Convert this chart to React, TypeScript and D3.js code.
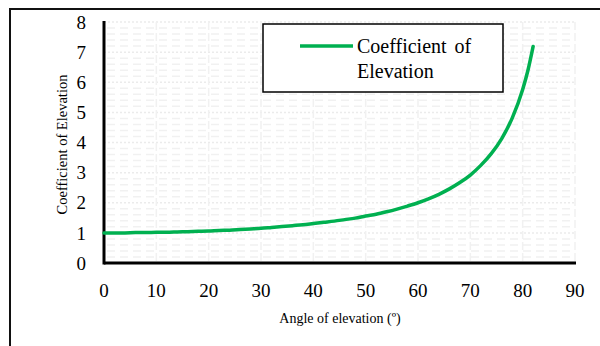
import React from "react";
import * as d3 from "d3";

// Angle of elevation (degrees) and the coefficient read at each angle
const angles = [0, 2, 4, 6, 8, 10, 12, 14, 16, 18, 20, 22, 24, 26, 28, 30, 32, 34, 36, 38, 40, 42, 44, 46, 48, 50, 52, 54, 56, 58, 60, 62, 64, 66, 68, 70, 72, 74, 76, 78, 80, 81, 82];
const coefficients = [1.0, 1.0, 1.0, 1.01, 1.01, 1.02, 1.02, 1.03, 1.04, 1.05, 1.06, 1.08, 1.09, 1.11, 1.13, 1.15, 1.18, 1.21, 1.24, 1.27, 1.31, 1.35, 1.39, 1.44, 1.49, 1.56, 1.62, 1.7, 1.79, 1.89, 2.0, 2.13, 2.28, 2.46, 2.67, 2.92, 3.24, 3.63, 4.13, 4.81, 5.76, 6.39, 7.19];

const xTicks = [0, 10, 20, 30, 40, 50, 60, 70, 80, 90];
const yTicks = [0, 1, 2, 3, 4, 5, 6, 7, 8];
const yMinorTicks = d3.range(0, 8.001, 0.2).filter((v) => Math.abs(v - Math.round(v)) > 0.01);

const seriesName = ["Coefficient of", "Elevation"];
const xTitle = "Angle of elevation (º)";
const yTitle = "Coefficient of Elevation";

const W = 600;
const H = 346;
const plot = { left: 104, right: 575, top: 22, bottom: 263 };
const GREEN = "#00B050";
const serif = { fontFamily: "'Liberation Serif', 'Times New Roman', Times, serif" };

export default function App() {
  const x = d3.scaleLinear().domain([0, 90]).range([plot.left, plot.right]);
  const y = d3.scaleLinear().domain([0, 8]).range([plot.bottom, plot.top]);

  const points: [number, number][] = angles.map((a, i) => [a, coefficients[i]]);
  const line = d3
    .line<[number, number]>()
    .x((d) => x(d[0]))
    .y((d) => y(d[1]))
    .curve(d3.curveMonotoneX);

  return (
    <svg width={W} height={H} style={{ position: "absolute", left: 0, top: 0, background: "#fff" }}>
      {/* outer frame */}
      <rect x={10} y={9} width={W + 20} height={H + 20} fill="none" stroke="#111" strokeWidth={2} />

      {/* minor horizontal gridlines */}
      {yMinorTicks.map((v) => (
        <line
          key={"mn" + v}
          x1={plot.left + 3}
          x2={plot.right}
          y1={y(v)}
          y2={y(v)}
          stroke="#f1f1f1"
          strokeWidth={1.5}
          strokeDasharray="8,5"
        />
      ))}
      {/* major horizontal gridlines */}
      {yTicks.slice(1).map((v) => (
        <line
          key={"mj" + v}
          x1={plot.left}
          x2={plot.right}
          y1={y(v)}
          y2={y(v)}
          stroke="#ebebeb"
          strokeWidth={1.5}
          strokeDasharray="2,2"
        />
      ))}
      {/* vertical gridlines */}
      {xTicks.slice(1).map((v) => (
        <line
          key={"vx" + v}
          x1={x(v)}
          x2={x(v)}
          y1={plot.top}
          y2={plot.bottom}
          stroke="#f1f1f1"
          strokeWidth={1.5}
          strokeDasharray="8,3"
        />
      ))}

      {/* axes */}
      <line x1={plot.left} x2={plot.left} y1={plot.top - 1} y2={plot.bottom + 1.5} stroke="#000" strokeWidth={3} />
      <line x1={plot.left} x2={plot.right + 1} y1={plot.bottom} y2={plot.bottom} stroke="#000" strokeWidth={3} />

      {/* series */}
      <path d={line(points) ?? ""} fill="none" stroke={GREEN} strokeWidth={3.5} strokeLinejoin="round" strokeLinecap="round" />

      {/* tick labels */}
      {yTicks.map((v) => (
        <text key={"yt" + v} x={86} y={y(v)} dy="0.35em" textAnchor="end" fontSize={19} fill="#000" style={serif}>
          {v}
        </text>
      ))}
      {xTicks.map((v) => (
        <text key={"xt" + v} x={x(v)} y={290} dy="0.35em" textAnchor="middle" fontSize={19} fill="#000" style={serif}>
          {v}
        </text>
      ))}

      {/* axis titles */}
      <text x={340} y={318} dy="0.35em" textAnchor="middle" fontSize={14} fill="#000" style={serif}>
        {xTitle}
      </text>
      <text
        transform={`translate(62, ${(plot.top + plot.bottom) / 2 + 2}) rotate(-90)`}
        dy="0.35em"
        textAnchor="middle"
        fontSize={14.5}
        fill="#000"
        style={serif}
      >
        {yTitle}
      </text>

      {/* legend */}
      <rect x={263} y={24} width={240} height={68} fill="#fff" stroke="#000" strokeWidth={1.5} />
      <line x1={300} x2={353} y1={46} y2={46} stroke={GREEN} strokeWidth={3.5} />
      <text x={357} y={53} fontSize={20} fill="#000" wordSpacing={3} style={serif}>
        {seriesName[0]}
      </text>
      <text x={357} y={78} fontSize={20} fill="#000" style={serif}>
        {seriesName[1]}
      </text>
    </svg>
  );
}
